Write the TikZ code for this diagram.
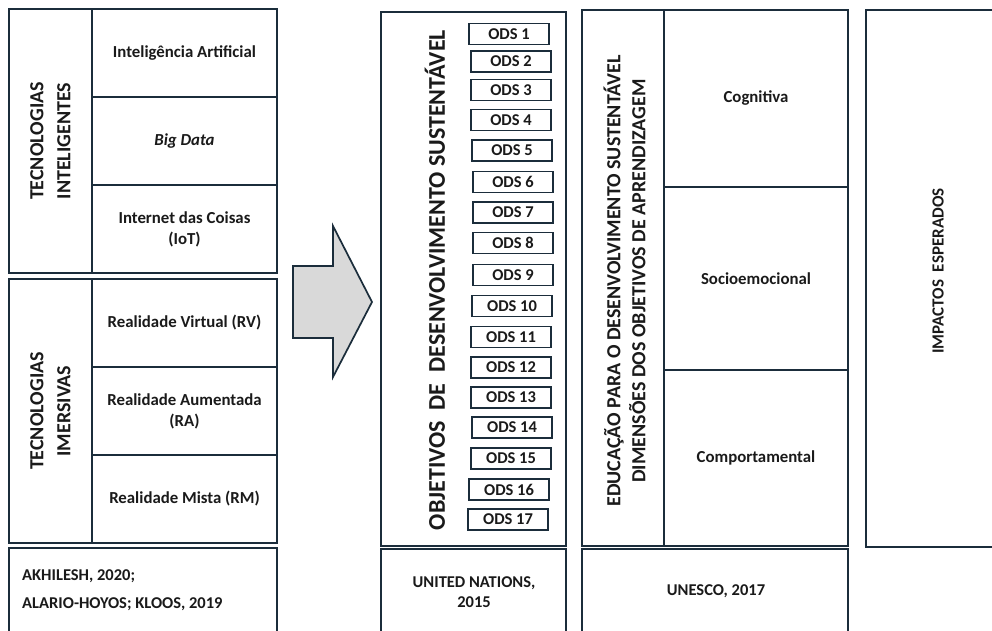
\documentclass[tikz,border=0pt]{standalone}
\usepackage{fontspec}
\setmainfont{Carlito}
\definecolor{navy}{HTML}{1B2D3B}
\definecolor{txt}{HTML}{1A1A1A}
\definecolor{arrowfill}{HTML}{D9D9D9}
\tikzset{
  cell/.style={draw=navy, line width=1.7pt, inner sep=2pt, align=center, text=txt, font=\bfseries\fontsize{16.8}{21}\selectfont},
  odsbox/.style={draw=navy, line width=1.7pt, minimum width=80pt, minimum height=21pt, inner sep=0pt, text=txt, font=\bfseries\fontsize{16.5}{18}\selectfont},
  vtitle/.style={rotate=90, align=center, text=txt, font=\bfseries\fontsize{20}{27}\selectfont},
  reftext/.style={text=txt, inner sep=0pt, font=\bfseries\fontsize{16.5}{19.5}\selectfont},
}
\newcommand{\cellat}[6]{% name, cx, cy, w, h, text
  \node[cell, minimum width=#4pt, minimum height=#5pt] (#1) at (#2,#3) {#6};}
\begin{document}
\begin{tikzpicture}[x=1pt,y=-1pt]
\useasboundingbox (0,0) rectangle (992,631);
\clip (0,0) rectangle (992,631);
\fill[white] (0,0) rectangle (992,631);
% left top block
\cellat{tiTitle}{50.5}{141}{83}{264}{}
\cellat{ia}{184.5}{53}{185}{88}{Inteligência Artificial}
\cellat{bd}{184.5}{141}{185}{88}{\itshape Big Data}
\cellat{iot}{184.5}{229}{185}{88}{Internet das Coisas\\(IoT)}
\node[vtitle] (tiT) at (tiTitle.center) {TECNOLOGIAS\\INTELIGENTES};
% left bottom block
\cellat{imTitle}{50.5}{411}{83}{264}{}
\cellat{rv}{184.5}{323}{185}{88}{Realidade Virtual (RV)}
\cellat{ra}{184.5}{411}{185}{88}{Realidade Aumentada\\(RA)}
\cellat{rm}{184.5}{499}{185}{88}{Realidade Mista (RM)}
\node[vtitle] (imT) at (imTitle.center) {TECNOLOGIAS\\IMERSIVAS};
% left reference
\cellat{refA}{143}{594}{268}{92}{}
\node[reftext, anchor=west] (refA1) at (22,576) {AKHILESH, 2020;};
\node[reftext, anchor=west] (refA2) at (22,604) {ALARIO-HOYOS; KLOOS, 2019};
% arrow
\draw[navy, line width=1.7pt, fill=arrowfill, line join=miter]
  (293,266) -- (333,266) -- (333,226) -- (372,302) -- (333,377) -- (333,338) -- (293,338) -- cycle;
% ODS block
\cellat{ods}{473.5}{279}{185}{534}{}
\node[vtitle, font=\bfseries\fontsize{24}{28}\selectfont] (odsT) at (435,280) {OBJETIVOS\ \ DE\ \ DESENVOLVIMENTO SUSTENTÁVEL};
\foreach \n/\cx/\cy in {1/509/34, 2/511/61.5, 3/511/90, 4/511/120, 5/512/150.5, 6/513/182, 7/513/212.5, 8/513/243, 9/513/275, 10/512/306, 11/511/337, 12/511/367.5, 13/511/397.5, 14/512/427.5, 15/511/458.5, 16/509/489.5, 17/508/519.5}
  \node[odsbox] (ods\n) at (\cx,\cy) {ODS \n};
\cellat{refB}{473.5}{595}{185}{92}{}
\node[reftext, align=center] (refBt) at (474,592) {UNITED NATIONS,\\2015};
% EDS block
\cellat{edsTitle}{623}{278}{82}{536}{}
\cellat{cog}{756}{98.5}{184}{177}{Cognitiva}
\cellat{soc}{756}{278.5}{184}{183}{Socioemocional}
\cellat{comp}{756}{458}{184}{176}{Comportamental}
\node[vtitle, font=\bfseries\fontsize{20}{25}\selectfont] (edsT) at (624.5,281) {EDUCAÇÃO PARA O DESENVOLVIMENTO SUSTENTÁVEL\\DIMENSÕES DOS OBJETIVOS DE APRENDIZAGEM};
\cellat{refC}{715}{595}{266}{92}{}
\node[reftext] (refCt) at (716,591) {UNESCO, 2017};
% impactos
\cellat{imp}{933}{278.5}{134}{537}{}
\node[vtitle, font=\bfseries\fontsize{17}{20}\selectfont] (impT) at (938,271) {IMPACTOS\ \ ESPERADOS};
\end{tikzpicture}
\end{document}
